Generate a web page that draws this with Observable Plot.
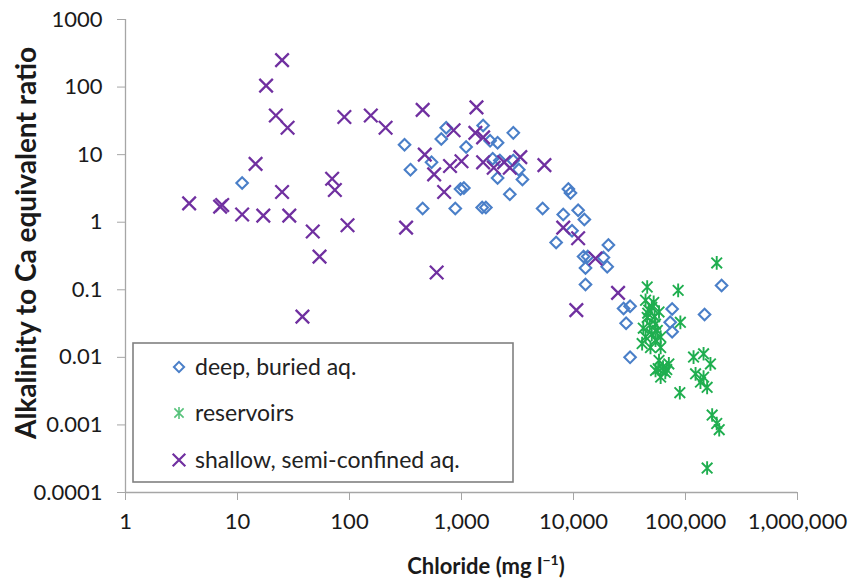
<!DOCTYPE html>
<html><head><meta charset="utf-8">
<script src="https://cdn.jsdelivr.net/npm/d3@7"></script>
<script src="https://cdn.jsdelivr.net/npm/@observablehq/plot@0.6"></script>
<style>
body{margin:0;background:#fff;}
#chart{position:relative;width:864px;height:583px;}
</style>
</head><body><div id="chart"></div>
<script>
const xTicks=[1,10,100,1000,10000,100000,1000000];
const xTickLabels=["1","10","100","1,000","10,000","100,000","1,000,000"];
const yTicks=[1000,100,10,1,0.1,0.01,0.001,0.0001];
const yTickLabels=["1000","100","10","1","0.1","0.01","0.001","0.0001"];
const seriesNames=["deep, buried aq.","reservoirs","shallow, semi-confined aq."];
const seriesColors=["#4a7fc8","#1fae4f","#7030a0"];

const deepCl=[11,730,1560,310,660,1100,1800,2100,2900,540,350,1900,2200,2900,3250,2100,3500,980,1050,2700,450,880,1530,1650,5300,9000,9400,8100,11000,12500,9700,7000,20500,12300,13400,18500,20000,12800,12800,28000,32000,29500,32000,76000,73000,76000,148000,210000];
const deepRatio=[3.8,25,27,14,17,13,16,15,21,7.7,6,8.7,8.2,8.2,6,4.5,4.3,3.1,3.2,2.6,1.6,1.6,1.65,1.65,1.6,3.1,2.7,1.3,1.5,1.1,0.75,0.5,0.46,0.31,0.31,0.3,0.22,0.21,0.12,0.053,0.057,0.032,0.01,0.052,0.033,0.024,0.043,0.116];

const resCl=[190000,45500,86000,90000,44000,50000,58000,45500,54000,42000,50000,60000,41000,48700,60000,54000,47000,52000,48000,56000,46000,53000,44000,58000,71000,54000,66000,60000,63000,57000,68000,89000,118000,145000,167000,123000,145000,156000,136000,173000,190000,200000,156000];
const resRatio=[0.25,0.11,0.098,0.033,0.07,0.055,0.047,0.039,0.031,0.027,0.022,0.02,0.016,0.014,0.014,0.018,0.05,0.065,0.03,0.025,0.045,0.04,0.02,0.009,0.008,0.0064,0.006,0.0051,0.0072,0.0068,0.0066,0.003,0.0101,0.0113,0.008,0.0057,0.0051,0.0036,0.0043,0.0014,0.00105,0.00085,0.00023];

const shallowCl=[3.7,7.3,7.0,11,17,29,14.5,25,47,96,70,74,54,38,18,25,22,28,90,155,210,450,1360,320,600,850,1330,1560,470,570,790,1000,1560,1940,2400,2700,3350,5500,700,8100,11000,15700,25000,10600];
const shallowRatio=[1.9,1.8,1.7,1.3,1.25,1.25,7.3,2.8,0.73,0.9,4.4,3.0,0.31,0.04,105,250,38,25,36,38,25,46,50,0.83,0.18,23,21,18,10,5.1,6.8,8,7.7,6.4,7.7,6.4,9.2,7,2.8,0.83,0.58,0.29,0.09,0.05];

const toRows=(cl,ra,s)=>cl.map((c,i)=>({cl:c,ratio:ra[i],series:s}));
const deep=toRows(deepCl,deepRatio,seriesNames[0]);
const res=toRows(resCl,resRatio,seriesNames[1]);
const shallow=toRows(shallowCl,shallowRatio,seriesNames[2]);

// Excel-like star marker: vertical bar plus an x
const star={draw(ctx,size){const h=Math.sqrt(size)*0.62;const d=h*0.78;
  ctx.moveTo(0,-h);ctx.lineTo(0,h);ctx.moveTo(-d,-d);ctx.lineTo(d,d);ctx.moveTo(-d,d);ctx.lineTo(d,-d);}};

const axisGray="#a6a6a6", textCol="#1a1a1a";
const chart=Plot.plot({
  width:864,height:583,marginLeft:125,marginRight:67,marginTop:19,marginBottom:91,
  style:{fontFamily:"Lato, 'Open Sans', sans-serif",fontSize:"22px",background:"white",color:textCol},
  x:{type:"log",domain:[1,1e6]},
  y:{type:"log",domain:[1e-4,1e3]},
  marks:[
    Plot.ruleX([1],{stroke:axisGray,strokeWidth:1.3}),
    Plot.ruleY([1e-4],{stroke:axisGray,strokeWidth:1.3}),
    Plot.axisX(xTicks,{tickSize:8,tickPadding:13,stroke:axisGray,color:textCol,fontSize:22,
      tickFormat:d=>xTickLabels[xTicks.indexOf(d)],label:null}),
    Plot.axisY(yTicks,{tickSize:8,tickPadding:15,stroke:axisGray,color:textCol,fontSize:22,
      tickFormat:d=>yTickLabels[yTicks.indexOf(d)],label:null}),
    Plot.dot(deep,{x:"cl",y:"ratio",symbol:"diamond2",r:5.2,stroke:seriesColors[0],strokeWidth:2.1,fill:"none"}),
    Plot.dot(res,{x:"cl",y:"ratio",symbol:star,r:6.2,stroke:seriesColors[1],strokeWidth:1.9,fill:"none"}),
    Plot.dot(shallow,{x:"cl",y:"ratio",symbol:"times",r:6.2,stroke:seriesColors[2],strokeWidth:2.3,fill:"none"})
  ]
});
document.getElementById("chart").appendChild(chart);

const svg=d3.select(chart);
// axis titles
svg.append("text").attr("transform","translate(26,243) rotate(-90)").attr("text-anchor","middle")
  .attr("dy","0.35em").attr("font-family","Lato, sans-serif").attr("font-weight","bold").attr("font-size",28)
  .attr("fill",textCol).text("Alkalinity to Ca equivalent ratio");
const xt=svg.append("text").attr("x",486).attr("y",566).attr("text-anchor","middle").attr("dy","0.35em")
  .attr("font-family","Lato, sans-serif").attr("font-weight","bold").attr("font-size",22).attr("fill",textCol);
xt.append("tspan").text("Chloride (mg l");
xt.append("tspan").attr("font-size",14).attr("dy","-0.6em").text("\u22121");
xt.append("tspan").attr("dy","0.38em").text(")");

// legend
const lg=svg.append("g");
lg.append("rect").attr("x",133).attr("y",343).attr("width",380).attr("height",139)
  .attr("fill","white").attr("stroke","#808080").attr("stroke-width",1.6);
const legSyms=[{t:d3.symbolDiamond2,r:4.6,w:2},{t:star,r:5.4,w:1.6},{t:d3.symbolTimes,r:5.8,w:2.2}];
const rowY=[367,413,460];
seriesNames.forEach((name,i)=>{
  lg.append("path").attr("transform",`translate(179,${rowY[i]})`)
    .attr("d",d3.symbol(legSyms[i].t,Math.PI*legSyms[i].r*legSyms[i].r)())
    .attr("fill","none").attr("stroke",seriesColors[i]).attr("stroke-width",legSyms[i].w)
    .attr("opacity",i===1?0.75:1);
  lg.append("text").attr("x",195).attr("y",rowY[i]).attr("dy","0.35em").attr("text-anchor","start")
    .attr("font-family","Lato, sans-serif").attr("font-size",23).attr("fill","#222").text(name);
});
</script>
</body></html>
